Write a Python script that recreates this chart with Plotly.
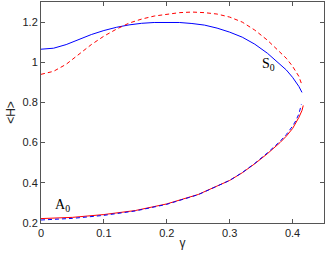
import plotly.graph_objects as go

# S0 branch
s0_gamma = [0, 0.02, 0.04, 0.06, 0.08, 0.10, 0.12, 0.14, 0.16, 0.18, 0.20, 0.22, 0.24,
            0.26, 0.28, 0.30, 0.32, 0.34, 0.36, 0.38, 0.39, 0.40, 0.41, 0.415]
s0_blue = [1.065, 1.070, 1.088, 1.113, 1.138, 1.158, 1.174, 1.186, 1.194, 1.198, 1.199, 1.198,
           1.193, 1.185, 1.170, 1.150, 1.125, 1.090, 1.045, 0.990, 0.962, 0.925, 0.880, 0.850]
s0_red_gamma = [0, 0.02, 0.04, 0.06, 0.08, 0.10, 0.12, 0.14, 0.16, 0.18, 0.20, 0.22, 0.24,
                0.26, 0.28, 0.30, 0.32, 0.34, 0.36, 0.38, 0.39, 0.40, 0.41, 0.414]
s0_red = [0.940, 0.955, 0.990, 1.040, 1.088, 1.130, 1.165, 1.195, 1.215, 1.230, 1.240, 1.247,
          1.250, 1.247, 1.240, 1.225, 1.200, 1.160, 1.110, 1.050, 1.020, 0.980, 0.930, 0.895]

# A0 branch
a0_gamma = [0, 0.05, 0.10, 0.15, 0.20, 0.25, 0.30, 0.32, 0.34, 0.36, 0.38, 0.39, 0.40,
            0.405, 0.41, 0.415, 0.417]
a0_red = [0.222, 0.228, 0.242, 0.262, 0.295, 0.342, 0.412, 0.450, 0.495, 0.545, 0.600, 0.632,
          0.670, 0.695, 0.725, 0.760, 0.785]
a0_blue_gamma = [0, 0.05, 0.10, 0.15, 0.20, 0.25, 0.30, 0.32, 0.34, 0.36, 0.38, 0.39, 0.40,
                 0.405, 0.41, 0.414]
a0_blue = [0.215, 0.223, 0.238, 0.260, 0.293, 0.341, 0.412, 0.451, 0.497, 0.549, 0.606, 0.640,
           0.682, 0.708, 0.742, 0.790]

x_ticks = [0, 0.1, 0.2, 0.3, 0.4]
x_tick_labels = ["0", "0.1", "0.2", "0.3", "0.4"]
y_ticks = [0.2, 0.4, 0.6, 0.8, 1.0, 1.2]
y_tick_labels = ["0.2", "0.4", "0.6", "0.8", "1", "1.2"]

BLUE = "#0000ff"
RED = "#ff0000"

fig = go.Figure()
fig.add_trace(go.Scatter(x=s0_gamma, y=s0_blue, mode="lines",
                         line=dict(color=BLUE, width=1), showlegend=False))
fig.add_trace(go.Scatter(x=s0_red_gamma, y=s0_red, mode="lines",
                         line=dict(color=RED, width=1, dash="4px,3px"), showlegend=False))
fig.add_trace(go.Scatter(x=a0_gamma, y=a0_red, mode="lines",
                         line=dict(color=RED, width=1), showlegend=False))
fig.add_trace(go.Scatter(x=a0_blue_gamma, y=a0_blue, mode="lines",
                         line=dict(color=BLUE, width=1, dash="4px,3px"), showlegend=False))

fig.add_annotation(x=0.362, y=0.99, text="S<sub>0</sub>", showarrow=False,
                   font=dict(family="Liberation Serif", size=14, color="#000"),
                   xanchor="center", yanchor="middle")
fig.add_annotation(x=0.034, y=0.285, text="A<sub>0</sub>", showarrow=False,
                   font=dict(family="Liberation Serif", size=14, color="#000"),
                   xanchor="center", yanchor="middle")

axis_common = dict(showgrid=False, zeroline=False, ticks="inside", ticklen=4,
                   tickcolor="#555", linecolor="#555", linewidth=1, mirror="ticks",
                   showline=True, automargin=False,
                   tickfont=dict(family="Liberation Sans", size=11, color="#222"))

fig.update_xaxes(range=[0, 0.45], tickvals=x_ticks, ticktext=x_tick_labels,
                 title=dict(text="γ", font=dict(family="Liberation Sans", size=12, color="#222"),
                            standoff=0),
                 **axis_common)
fig.update_yaxes(range=[0.2, 1.3], tickvals=y_ticks, ticktext=y_tick_labels,
                 title=dict(text="&lt;H&gt;", font=dict(family="Liberation Sans", size=12, color="#222"),
                            standoff=4),
                 **axis_common)

fig.update_layout(width=327, height=256, margin=dict(l=41, r=3, t=2, b=33),
                  plot_bgcolor="white", paper_bgcolor="white")

fig.write_html("out.html", config={"displayModeBar": False},
               post_script="document.body.style.margin='0';document.body.style.padding='0';"
                           "document.body.style.overflow='hidden';")
